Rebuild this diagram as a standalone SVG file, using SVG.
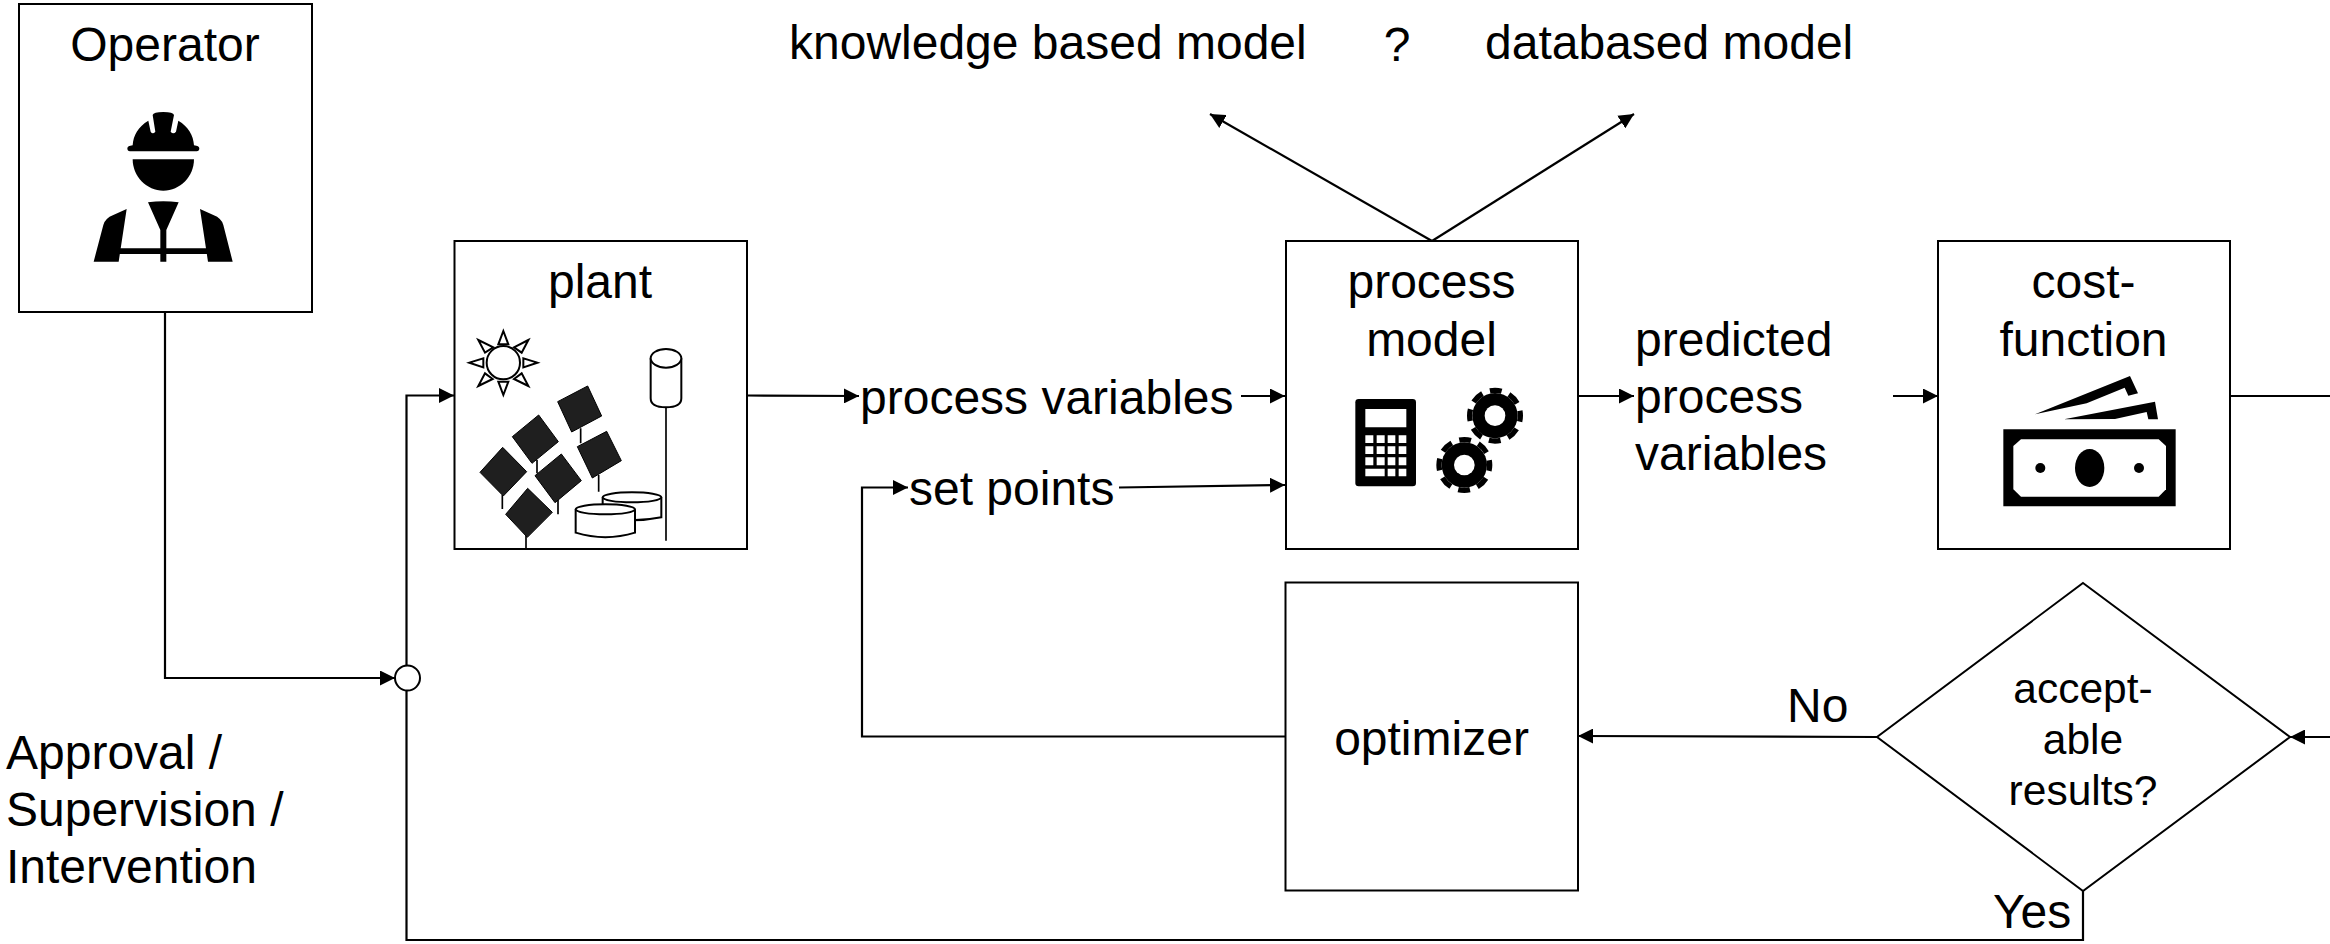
<svg xmlns="http://www.w3.org/2000/svg" width="2330" height="944" viewBox="0 0 2330 944">
<style>
text{font-family:"Liberation Sans",Arial,sans-serif;font-size:48px;fill:#000}
.m{text-anchor:middle}
.box{fill:#fff;stroke:#000;stroke-width:2}
.ln{fill:none;stroke:#000;stroke-width:2.2}
.ar{marker-end:url(#a)}
.k{fill:#000;stroke:none}
.w{fill:#fff;stroke:none}
.d{font-size:42.5px}
.o{fill:#fff;stroke:#000;stroke-width:6}
.s{fill:none;stroke:#000;stroke-width:5}
.p{fill:#1f1f1f;stroke:#000;stroke-width:3}
</style>
<defs>
<marker id="a" markerUnits="userSpaceOnUse" markerWidth="15" markerHeight="15" refX="15" refY="7.5" orient="auto"><path d="M0 0L15 7.5L0 15Z" fill="#000"/></marker>
<g id="gear"><circle r="68" fill="#000"/><circle r="76" fill="none" stroke="#000" stroke-width="16" stroke-dasharray="36 23.7" stroke-dashoffset="18"/><circle r="31" fill="#fff"/></g>
</defs>
<rect width="2330" height="944" fill="#fff"/>
<g id="connectors">
<path class="ln ar" d="M165 312V678H395"/>
<path class="ln ar" d="M2083 891V940H406.500V395.500H454"/>
<path class="ln ar" d="M747 395.500L859 396"/>
<path class="ln ar" d="M1241 396H1285"/>
<path class="ln ar" d="M1119 487.500L1285 485"/>
<path class="ln ar" d="M1578 396H1634"/>
<path class="ln ar" d="M1893 396H1938"/>
<path class="ln ar" d="M1432 241L1210 114"/>
<path class="ln ar" d="M1432 241L1634 114"/>
<path class="ln" d="M2230 396H2330"/>
<path class="ln ar" d="M2330 737H2290"/>
<path class="ln ar" d="M1877 737L1578 736"/>
<path class="ln ar" d="M1285.500 736.500H862V487.500H908"/>
</g>
<g id="operator">
<rect class="box" x="19" y="4" width="293" height="308"/>
<text class="m" x="165" y="61">Operator</text>
<g transform="scale(.33333)">
<path class="k" d="M382 445Q382 438 398 436C400 405 415 380 445 362L452 395Q458 405 466 395L458 345Q460 336 490 336Q520 336 522 345L512 395Q520 405 528 395L535 362C565 380 580 405 582 436Q598 438 598 445Q598 454 590 454L390 454Q382 454 382 445Z"/>
<path class="k" d="M398 478L582 478C582 530 540 572 490 572C440 572 398 530 398 478Z"/>
<path class="k" d="M444 607Q490 600 536 607L499 690V745H622V762H499V785H481V762H356V745H481V690Z"/>
<path class="k" d="M380 627L356 785H281L310 675Q315 655 340 645Z"/>
<path class="k" d="M600 627L624 785H698L670 675Q665 655 640 645Z"/>
</g>
</g>
<g id="plant">
<rect class="box" x="454.500" y="241" width="292.500" height="308"/>
<text class="m" x="600" y="298">plant</text>
<g transform="translate(440 230) scale(.33333)">
<circle class="o" cx="190" cy="398" r="50"/>
<path class="o" d="M190 303L175 343H205ZM292 398L250 385V412ZM190 495L175 455H205ZM88 398L130 385V412ZM115 330L160 352L135 368ZM265 330L222 352L245 368ZM265 468L222 447L245 430ZM115 468L158 447L135 430Z"/>
<path class="s" d="M422 595V640M476 735V785M291 690V730M354 810V853M187 795V837M258 915V957M678 532V932"/>
<path class="p" d="M353 515L443 468L485 558L395 606Z"/>
<path class="p" d="M412 650L500 604L544 692L457 744Z"/>
<path class="p" d="M217 620L296 555L355 635L276 700Z"/>
<path class="p" d="M285 737L364 672L424 752L345 818Z"/>
<path class="p" d="M120 727L188 652L260 725L190 798Z"/>
<path class="p" d="M197 853L263 775L337 847L262 922Z"/>
<path class="o" d="M632 385V505Q632 532 678 532Q724 532 724 505V385"/>
<ellipse class="o" cx="678" cy="385" rx="46" ry="28"/>
<path class="o" d="M488 802V862Q576 880 664 862V802"/>
<ellipse class="o" cx="576" cy="802" rx="88" ry="15"/>
<path class="o" d="M407 838V908Q496 935 585 908V838"/>
<ellipse class="o" cx="496" cy="838" rx="89" ry="15"/>
</g>
</g>
<g id="process-model">
<rect class="box" x="1286" y="241" width="292" height="308"/>
<text class="m" x="1431.500" y="298">process</text>
<text class="m" x="1431.500" y="356">model</text>
<g transform="translate(1270 230) scale(.33333)">
<rect class="k" x="256" y="507" width="182" height="262" rx="10"/>
<path class="w" d="M286 537H409V592H286ZM286 616H310V639H286ZM320 616H344V639H320ZM353 616H376V639H353ZM386 616H409V639H386ZM286 649H310V672H286ZM320 649H344V672H320ZM353 649H376V672H353ZM386 649H409V672H386ZM286 682H310V706H286ZM320 682H344V706H320ZM353 682H376V706H353ZM386 682H409V706H386ZM286 716H344V739H286ZM353 716H376V739H353ZM386 716H409V739H386Z"/>
<use href="#gear" x="675" y="557"/>
<use href="#gear" x="583" y="705"/>
</g>
</g>
<g id="cost-function">
<rect class="box" x="1938" y="241" width="292" height="308"/>
<text class="m" x="2083.500" y="298">cost-</text>
<text class="m" x="2083.500" y="356">function</text>
<g transform="translate(1920 230) scale(.33333)">
<path class="k" d="M250 598H767V829H250Z"/>
<path class="w" d="M303 628H716L738 648V778L716 800H303L280 778V648Z"/>
<ellipse class="k" cx="509" cy="714" rx="44" ry="57"/>
<circle class="k" cx="361" cy="714" r="15"/>
<circle class="k" cx="657" cy="714" r="15"/>
<path class="k" d="M345 553L630 438L654 490L625 497L614 473L500 520Z"/>
<path class="k" d="M432 568L705 515L714 568H685L680 546L585 567Z"/>
</g>
</g>
<g id="optimizer">
<rect class="box" x="1285.500" y="582.500" width="292.500" height="308"/>
<text class="m" x="1431.500" y="755">optimizer</text>
</g>
<g id="decision">
<path class="box" d="M2083 583L2290 737L2083 891L1877 737Z"/>
<text class="m d" x="2083" y="703">accept-</text>
<text class="m d" x="2083" y="754">able</text>
<text class="m d" x="2083" y="805">results?</text>
</g>
<g id="junction"><circle cx="407.500" cy="678" r="12.500" fill="#fff" stroke="#000" stroke-width="2"/></g>
<g id="labels">
<text x="789" y="59">knowledge based model</text>
<text class="m" x="1397" y="61" font-size="42">?</text>
<text x="1485" y="59">databased model</text>
<text x="860" y="414">process variables</text>
<text x="909" y="505">set points</text>
<text x="1635" y="356">predicted</text>
<text x="1635" y="413">process</text>
<text x="1635" y="470">variables</text>
<text x="1787" y="722">No</text>
<text x="1993" y="928">Yes</text>
<text x="6" y="769">Approval /</text>
<text x="6" y="826">Supervision /</text>
<text x="6" y="883">Intervention</text>
</g>
</svg>
